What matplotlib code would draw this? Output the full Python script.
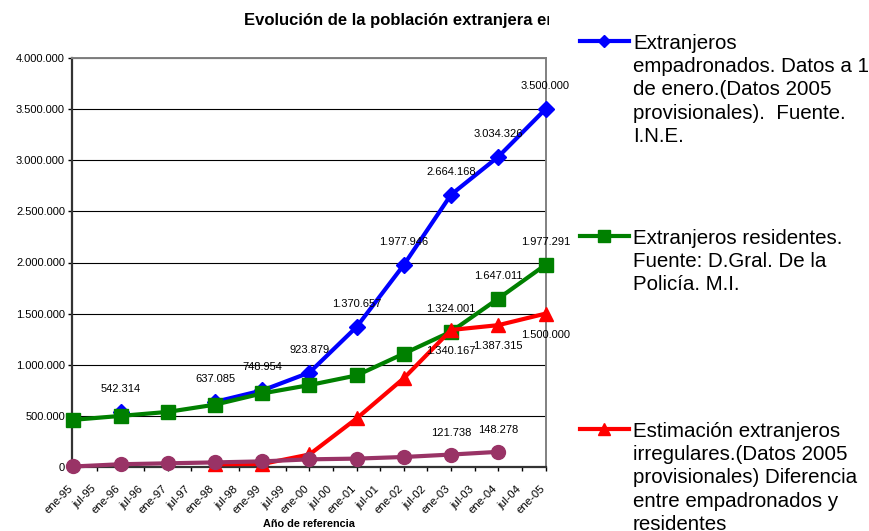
import numpy as np
import matplotlib
matplotlib.use("Agg")
import matplotlib.pyplot as plt
from matplotlib.transforms import Bbox, TransformedBbox, ScaledTranslation

plt.rcParams['font.family'] = ['Liberation Sans', 'DejaVu Sans']

# Datos (1 de enero de cada año)
anios = [1995, 1996, 1997, 1998, 1999, 2000, 2001, 2002, 2003, 2004, 2005]
empadronados = [np.nan, 542314, np.nan, 637085, 748954, 923879, 1370657,
                1977946, 2664168, 3034326, 3500000]
residentes = [461364, 499773, 538984, 609813, 719647, 801329, 895720,
              1109060, 1324001, 1647011, 1977291]
irregulares = [np.nan, np.nan, np.nan, 27272, 29307, 122550, 474937,
               868886, 1340167, 1387315, 1500000]
otros = [5000, 27000, 36000, 45000, 55000, 75000, 82000, 98000,
         121738, 148278, np.nan]

etiquetas_x = []
for a in range(1995, 2006):
    etiquetas_x.append(f"ene-{a % 100:02d}")
    if a < 2005:
        etiquetas_x.append(f"jul-{a % 100:02d}")

valores_y = [0, 500000, 1000000, 1500000, 2000000, 2500000, 3000000,
             3500000, 4000000]

nombres = [
    "Extranjeros\nempadronados. Datos a 1\nde enero.(Datos 2005\nprovisionales).  Fuente.\nI.N.E.",
    "Extranjeros residentes.\nFuente: D.Gral. De la\nPolicía. M.I.",
    "Estimación extranjeros\nirregulares.(Datos 2005\nprovisionales) Diferencia\nentre empadronados y\nresidentes",
]
titulo = "Evolución de la población extranjera en España"
titulo_x = "Año de referencia"


def fmt(v):
    return f"{int(round(v)):,}".replace(",", ".")


W, H = 869, 531
fig = plt.figure(figsize=(W / 100, H / 100), dpi=100)
ax = fig.add_axes([72 / W, 1 - 467 / H, (546 - 72) / W, (467 - 58) / H])

x = np.array(anios, dtype=float) - 1995

azul, verde, rojo, morado = "#0000FF", "#008000", "#FF0000", "#993366"
lw = 3.0
ax.plot(x, empadronados, color=azul, lw=lw, marker="D", ms=8.5,
        clip_on=False, zorder=3)
ax.plot(x, residentes, color=verde, lw=lw, marker="s", ms=10.5,
        clip_on=False, zorder=4)
ax.plot(x, irregulares, color=rojo, lw=lw, marker="^", ms=10,
        clip_on=False, zorder=5)
ax.plot(x, otros, color=morado, lw=lw, marker="o", ms=10,
        clip_on=False, zorder=6)

fs_lab = 8.0
for xi, v in zip(x, empadronados):
    if not np.isnan(v):
        ax.annotate(fmt(v), (xi, v), xytext=(0, 23), textcoords="offset pixels",
                    ha="center", va="center", fontsize=fs_lab, zorder=8,
                    annotation_clip=False)
for xi, v in list(zip(x, residentes))[8:]:
    ax.annotate(fmt(v), (xi, v), xytext=(0, 23), textcoords="offset pixels",
                ha="center", va="center", fontsize=fs_lab, zorder=8,
                annotation_clip=False)
for xi, v in list(zip(x, irregulares))[8:]:
    ax.annotate(fmt(v), (xi, v), xytext=(0, -21), textcoords="offset pixels",
                ha="center", va="center", fontsize=fs_lab, zorder=8,
                annotation_clip=False)
for xi, v in list(zip(x, otros))[8:10]:
    ax.annotate(fmt(v), (xi, v), xytext=(0, 22), textcoords="offset pixels",
                ha="center", va="center", fontsize=fs_lab, zorder=8,
                annotation_clip=False)

ax.set_xlim(-0.03, 10.01)
ax.set_ylim(0, 4000000)
ax.set_yticks(valores_y)
ax.set_yticklabels([fmt(v) for v in valores_y], fontsize=fs_lab)
ax.set_xticks(np.arange(0, 10.01, 0.5))
ax.set_xticklabels(etiquetas_x, fontsize=8.2, rotation=45, ha="right",
                   va="top", rotation_mode="anchor")
ax.tick_params(axis="x", direction="out", length=3, width=1, pad=9,
               color="#000000")
ax.tick_params(axis="y", direction="out", length=3, width=1, pad=2,
               color="#000000")
desplazamiento = ScaledTranslation(-6 / 100, 0, fig.dpi_scale_trans)
for t in ax.get_xticklabels():
    t.set_transform(t.get_transform() + desplazamiento)

ax.grid(axis="y", color="#000000", lw=0.8, zorder=0)
ax.set_axisbelow(True)
ax.spines["left"].set_color("#333333")
ax.spines["left"].set_linewidth(1.6)
ax.spines["bottom"].set_color("#333333")
ax.spines["bottom"].set_linewidth(1.6)
ax.spines["top"].set_color("#808080")
ax.spines["top"].set_linewidth(1.4)
ax.spines["right"].set_color("#808080")
ax.spines["right"].set_linewidth(1.4)

fig.text(309 / W, 1 - 524 / H, titulo_x, ha="center", va="center",
         fontsize=7.8, fontweight="bold")

t = fig.text(244 / W, 1 - 20 / H, titulo, ha="left", va="center",
             fontsize=12, fontweight="bold")
t.set_clip_box(TransformedBbox(Bbox([[0, 0], [549 / W, 1]]), fig.transFigure))
t.set_clip_on(True)

# Leyenda a la derecha
colores = [azul, verde, rojo]
marcadores = ["D", "s", "^"]
tam = [6, 9, 8.5]
ys = [41, 236, 429]
for c, m, s, yy, nombre in zip(colores, marcadores, tam, ys, nombres):
    yf = 1 - yy / H
    fig.add_artist(plt.Line2D([580 / W, 629 / W], [yf, yf], color=c, lw=3,
                              transform=fig.transFigure))
    fig.add_artist(plt.Line2D([604 / W], [yf], color=c, marker=m, ms=s,
                              transform=fig.transFigure))
    fig.text(633 / W, 1 - (yy - 7) / H, nombre, ha="left", va="top",
             fontsize=14.8, linespacing=1.28)

fig.savefig("out.png", dpi=100)
